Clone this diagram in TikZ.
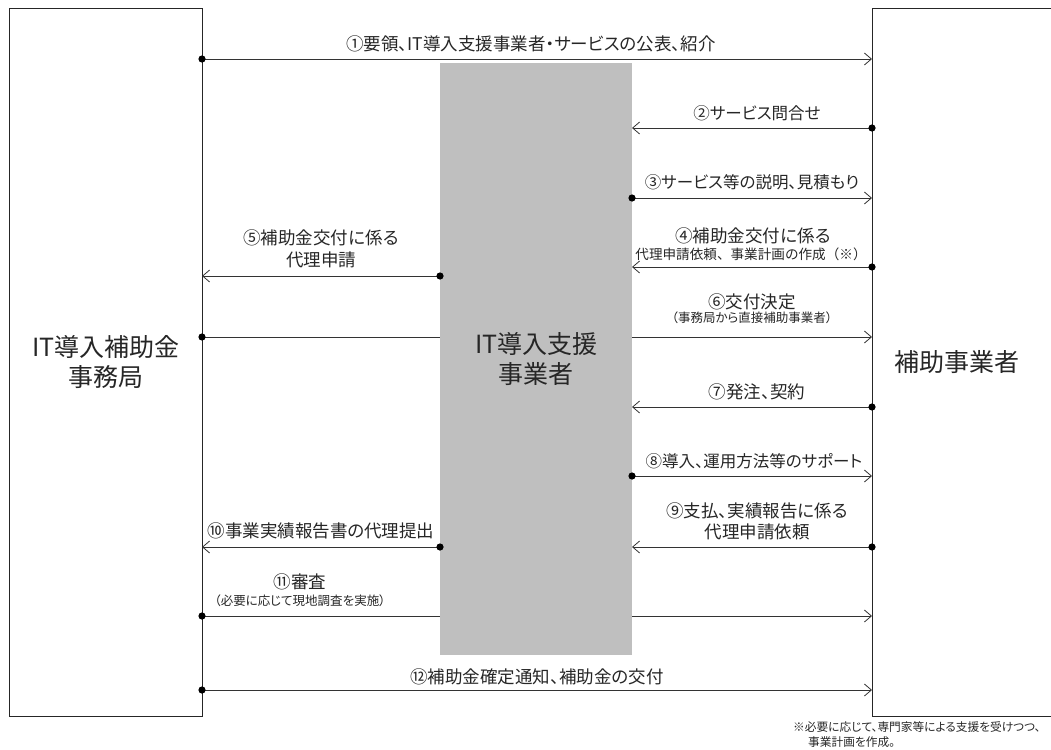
\documentclass[tikz,border=0pt]{standalone}
\usepackage{fontspec}
\setmainfont{Noto Sans CJK JP}[RawFeature=+palt]
\newfontfamily\fullwd{Noto Sans CJK JP}
\usetikzlibrary{arrows.meta}
\tikzset{
  box/.style={draw=black!85, line width=0.8pt, inner sep=0pt, anchor=north west, align=center, font=\fontsize{25}{30}\selectfont, text=black!85},
  msg/.style={draw=black!80, line width=0.8pt, -{Straight Barb[length=7pt,width=12pt]}},
  lbl/.style={inner sep=0pt, text=black!85, font=\fontsize{17.5}{19}\selectfont},
  kana/.style={lbl, font=\fontsize{16.5}{18}\selectfont},
  sub/.style={inner sep=0pt, text=black!85, font=\fontsize{12.5}{14}\selectfont},
  note/.style={inner sep=0pt, anchor=west, text=black!85, font=\fontsize{11.7}{14}\selectfont},
}
\begin{document}
\begin{tikzpicture}[x=1pt,y=-1pt]
  \useasboundingbox (0,0) rectangle (1051,749);
  \foreach \y [count=\i] in {59,128,198,267,276,337,407,476,547,547,616,690}{
    \coordinate (o\i) at (202,\y);
    \coordinate (s\i) at (440,\y);
    \coordinate (t\i) at (632,\y);
    \coordinate (u\i) at (872,\y);
  }
  \node[box, minimum width=193pt, minimum height=708pt] (office) at (9,8) {IT導入補助金\\事務局};
  \node[box, minimum width=200pt, minimum height=708pt] (user) at (872,8) {};
  \node[inner sep=0pt, text=black!85, font=\fontsize{25}{30}\selectfont] (usertxt) at (957,362) {補助事業者};
  \foreach \a/\b in {o1/u1,u2/t2,t3/u3,u4/t4,s5/o5,o6/u6,u7/t7,t8/u8,u9/t9,s10/o10,o11/u11,o12/u12}
    \draw[msg] (\a) -- (\b);
  \node[box, draw=none, fill=black!25, minimum width=192pt, minimum height=592pt] (vendor) at (440,63) {IT導入支援\\事業者};
  \foreach \a in {o1,u2,t3,u4,s5,o6,u7,t8,u9,s10,o11,o12}
    \fill (\a) circle (3.6);
  \node[lbl] (m1) at (531,44) {①要領、IT導入支援事業者・サービスの公表、紹介};
  \node[kana] (m2) at (757,113) {②サービス問合せ};
  \node[kana] (m3) at (752,182) {③サービス等の説明、見積もり};
  \node[lbl] (m4) at (753,236) {④補助金交付に係る};
  \node[inner sep=0pt, text=black!85, font=\fullwd\fontsize{13.6}{16}\selectfont] (m4b) at (751,254) {代理申請依頼、事業計画の作成（※）};
  \node[lbl] (m5) at (321,238) {⑤補助金交付に係る};
  \node[lbl] (m5b) at (321,260) {代理申請};
  \node[lbl] (m6) at (752,302) {⑥交付決定};
  \node[sub] (m6b) at (752,318) {（事務局から直接補助事業者）};
  \node[lbl] (m7) at (757,392) {⑦発注、契約};
  \node[kana] (m8) at (754,461) {⑧導入、運用方法等のサポート};
  \node[lbl] (m9) at (757,511) {⑨支払、実績報告に係る};
  \node[lbl] (m9b) at (757,532) {代理申請依頼};
  \node[lbl] (m10) at (321,531) {⑩事業実績報告書の代理提出};
  \node[lbl] (m11) at (300,582) {⑪審査};
  \node[sub] (m11b) at (300,601) {（必要に応じて現地調査を実施）};
  \node[lbl] (m12) at (537,677) {⑫補助金確定通知、補助金の交付};
  \node[note] (fn1) at (793,727) {※必要に応じて、専門家等による支援を受けつつ、};
  \node[note] (fn2) at (808,742) {事業計画を作成。};
\end{tikzpicture}
\end{document}
